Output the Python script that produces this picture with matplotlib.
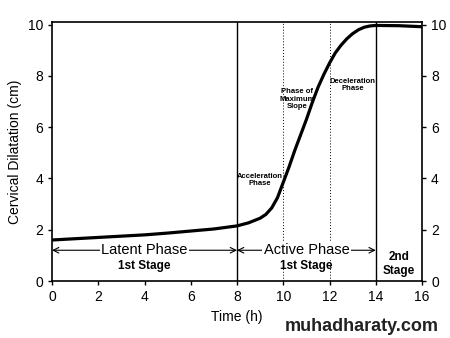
import matplotlib.pyplot as plt

plt.rcParams['font.family'] = ['Liberation Sans', 'DejaVu Sans']

# Data
time_h = [0, 1, 2, 3, 4, 5, 6, 7, 8, 8.5, 9, 9.25, 9.5, 9.75, 10, 10.25, 10.5, 10.75,
          11, 11.25, 11.5, 11.75, 12, 12.25, 12.5, 12.75, 13, 13.25, 13.5, 13.75, 14, 15, 16]
dilatation = [1.6, 1.65, 1.7, 1.75, 1.8, 1.87, 1.95, 2.03, 2.15, 2.27, 2.45, 2.6, 2.85, 3.25,
              3.85, 4.45, 5.1, 5.7, 6.3, 6.95, 7.55, 8.05, 8.5, 8.9, 9.2, 9.45, 9.65, 9.8,
              9.9, 9.95, 9.97, 9.96, 9.92]
stage_lines = [8, 14]
phase_lines = [10, 12]
xticks = [0, 2, 4, 6, 8, 10, 12, 14, 16]
yticks = [0, 2, 4, 6, 8, 10]

fig = plt.figure(figsize=(4.5, 3.38), dpi=100)
ax = fig.add_axes([0.1156, 0.1686, 0.8222, 0.766])

ax.plot(time_h, dilatation, color='black', lw=2.3, solid_capstyle='round',
        solid_joinstyle='round')
for xv in stage_lines:
    ax.axvline(xv, color='black', lw=1)
for xv in phase_lines:
    ax.axvline(xv, color='black', lw=0.7, ls=(0, (1, 2)))

ax.set_xlim(0, 16)
ax.set_ylim(0, 10.1)
ax.set_xticks(xticks)
ax.set_yticks(yticks)
ax.tick_params(labelsize=10, direction='out', length=3, width=1,
               right=True, labelright=True)
for s in ax.spines.values():
    s.set_linewidth(1.2)

ax.set_xlabel('Time (h)', fontsize=10)
ax.set_ylabel('Cervical Dilatation (cm)', fontsize=10)

# Phase arrows
arrow_kw = dict(arrowstyle='<->', color='black', lw=0.8, shrinkA=0, shrinkB=0)
ax.annotate('', xy=(0, 1.2), xytext=(8, 1.2), arrowprops=arrow_kw)
ax.annotate('', xy=(8, 1.2), xytext=(14, 1.2), arrowprops=arrow_kw)
ax.text(4, 1.2, 'Latent Phase', ha='center', va='center', fontsize=10.5,
        bbox=dict(facecolor='white', edgecolor='none', pad=1))
ax.text(4, 0.6, '1st Stage', ha='center', va='center', fontsize=8.5, weight='bold')
ax.text(11, 1.2, 'Active Phase', ha='center', va='center', fontsize=10.5,
        bbox=dict(facecolor='white', edgecolor='none', pad=1))
ax.text(11, 0.6, '1st Stage', ha='center', va='center', fontsize=8.5, weight='bold')
ax.text(15, 0.65, '2nd\nStage', ha='center', va='center', fontsize=8.5, weight='bold',
        linespacing=1.2)

ax.text(9.0, 3.95, 'Acceleration\nPhase', ha='center', va='center', fontsize=5.5,
        weight='bold', linespacing=1.1)
ax.text(10.6, 7.1, 'Phase of\nMaximum\nSlope', ha='center', va='center', fontsize=5.5,
        weight='bold', linespacing=1.1)
ax.text(13.0, 7.65, 'Deceleration\nPhase', ha='center', va='center', fontsize=5.5,
        weight='bold', linespacing=1.1)

fig.text(0.975, 0.035, 'muhadharaty.com', ha='right', va='center', fontsize=13,
         weight='bold', color='#222222')

fig.savefig('out.png', dpi=100)
